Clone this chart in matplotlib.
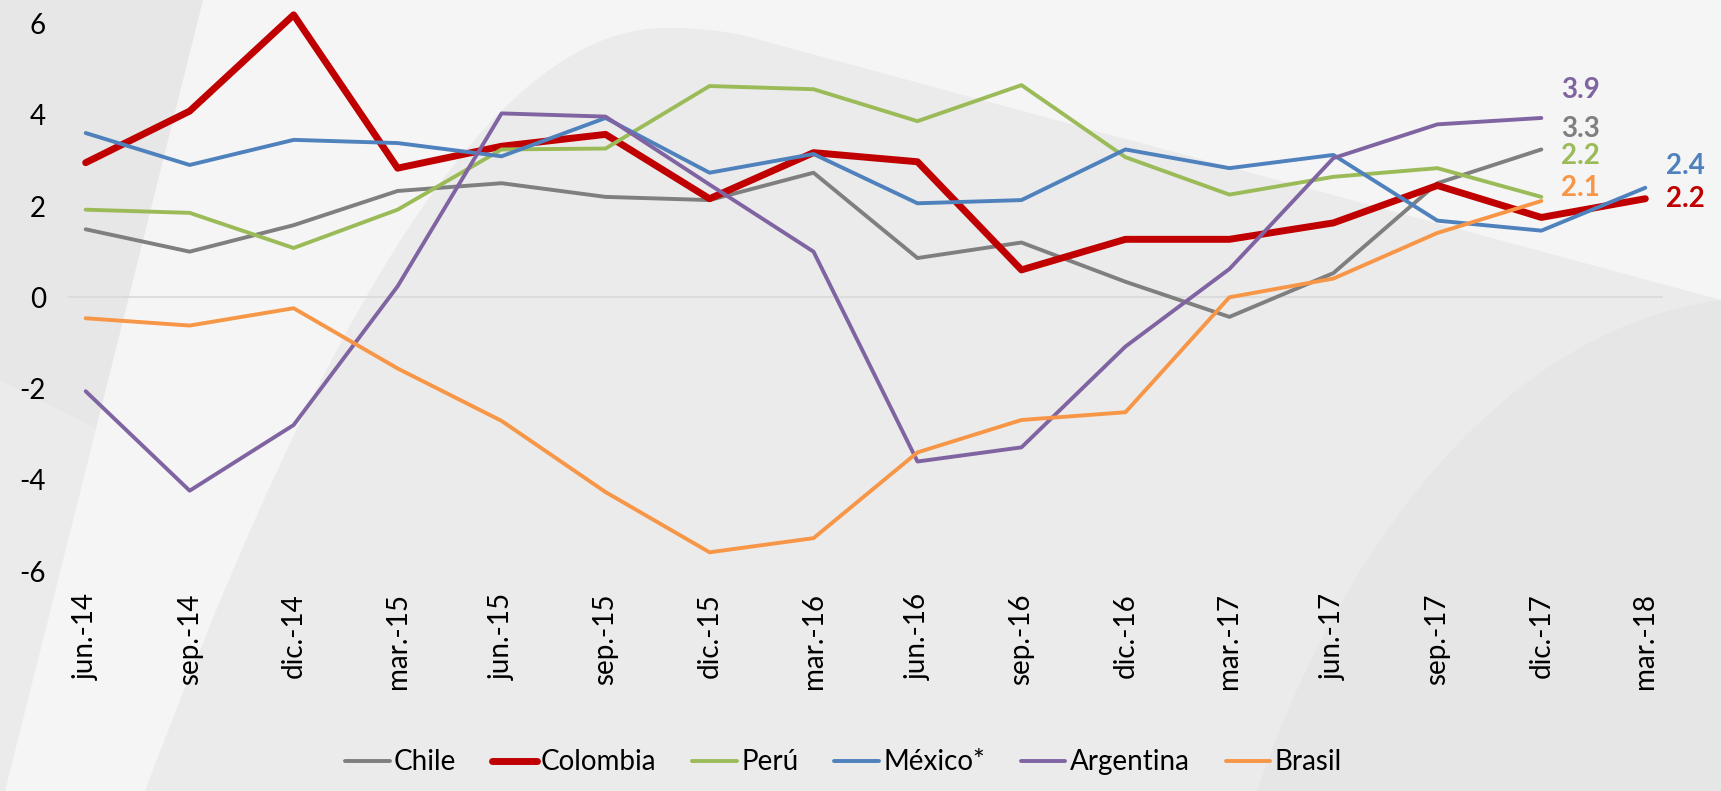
import matplotlib
matplotlib.use("Agg")
import matplotlib.pyplot as plt
from matplotlib.path import Path
from matplotlib.patches import PathPatch, Polygon

plt.rcParams['font.family'] = ['Lato', 'DejaVu Sans']

# Data
fechas = ['jun.-14', 'sep.-14', 'dic.-14', 'mar.-15', 'jun.-15', 'sep.-15', 'dic.-15', 'mar.-16',
          'jun.-16', 'sep.-16', 'dic.-16', 'mar.-17', 'jun.-17', 'sep.-17', 'dic.-17', 'mar.-18']
chile = [1.49, 1.0, 1.58, 2.33, 2.5, 2.2, 2.13, 2.73, 0.86, 1.2, 0.34, -0.43, 0.53, 2.5, 3.24]
colombia = [2.95, 4.08, 6.19, 2.83, 3.31, 3.57, 2.16, 3.17, 2.97, 0.6, 1.27, 1.27, 1.63, 2.45, 1.75, 2.16]
peru = [1.92, 1.85, 1.08, 1.92, 3.24, 3.26, 4.63, 4.56, 3.86, 4.65, 3.07, 2.25, 2.64, 2.83, 2.2]
mexico = [3.6, 2.9, 3.45, 3.38, 3.09, 3.93, 2.73, 3.14, 2.06, 2.13, 3.24, 2.83, 3.12, 1.68, 1.46, 2.4]
argentina = [-2.06, -4.24, -2.8, 0.24, 4.03, 3.96, 2.47, 1.0, -3.6, -3.29, -1.08, 0.62, 3.05, 3.79, 3.93]
brasil = [-0.46, -0.62, -0.24, -1.56, -2.71, -4.27, -5.59, -5.28, -3.4, -2.69, -2.52, 0.0, 0.41, 1.41, 2.11]

nombres = ['Chile', 'Colombia', 'Perú', 'México*', 'Argentina', 'Brasil']
colores = ['#7f7f7f', '#c00000', '#9bbb59', '#4f81bd', '#8064a2', '#f79646']
ultimos = ['3.3', '2.2', '2.2', '2.4', '3.9', '2.1']

fig = plt.figure(figsize=(17.21, 7.91), dpi=100)
fig.patch.set_facecolor('#f5f5f5')

# decorative background, in figure pixel coordinates
bg = fig.add_axes([0, 0, 1, 1], zorder=-1)
bg.set_xlim(0, 1721)
bg.set_ylim(791, 0)
bg.axis('off')
bg.add_patch(Polygon([(0, 0), (203, 0), (96, 429), (0, 381)], closed=True, fc='#e7e7e7', ec='none'))
bg.add_patch(Polygon([(0, 381), (96, 429), (5, 791), (0, 791)], closed=True, fc='#ebebeb', ec='none'))
verts = [(145, 791), (300, 380), (470, 35), (660, 28), (700, 27), (740, 33), (760, 40),
         (1721, 300), (1721, 791), (145, 791)]
codes = [Path.MOVETO, Path.CURVE4, Path.CURVE4, Path.CURVE4, Path.CURVE4, Path.CURVE4, Path.CURVE4,
         Path.LINETO, Path.LINETO, Path.CLOSEPOLY]
bg.add_patch(PathPatch(Path(verts, codes), fc='#ebebeb', ec='none'))
verts2 = [(1257, 791), (1340, 550), (1500, 330), (1721, 300), (1721, 791), (1257, 791)]
codes2 = [Path.MOVETO, Path.CURVE4, Path.CURVE4, Path.CURVE4, Path.LINETO, Path.CLOSEPOLY]
bg.add_patch(PathPatch(Path(verts2, codes2), fc='#e6e6e6', ec='none'))

ax = fig.add_axes([68 / 1721, (791 - 571) / 791, (1663 - 68) / 1721, 568 / 791])
ax.patch.set_alpha(0)

series = [chile, colombia, peru, mexico, argentina, brasil]
for nombre, vals, col in zip(nombres, series, colores):
    lw = 5 if nombre == 'Colombia' else 2.8
    ax.plot(range(len(vals)), vals, color=col, lw=lw, label=nombre,
            solid_joinstyle='round', solid_capstyle='round')

ax.axhline(0, color='#d9d9d9', lw=1.2, zorder=0)

# end labels
pos = {'Argentina': (14.19, 4.55), 'Chile': (14.19, 3.68), 'Perú': (14.19, 3.09),
       'Brasil': (14.19, 2.39), 'México*': (15.2, 2.87), 'Colombia': (15.2, 2.15)}
for nombre, txt, col in zip(nombres, ultimos, colores):
    x, y = pos[nombre]
    ax.text(x, y, txt, color=col, fontsize=20, fontweight='bold', ha='left', va='center', clip_on=False)

ax.set_xlim(-0.17, 15.17)
ax.set_ylim(-6, 6.45)
ax.set_xticks(range(len(fechas)))
ax.set_xticklabels(fechas, rotation=90, fontsize=20)
ax.set_yticks([-6, -4, -2, 0, 2, 4, 6])
ax.set_yticklabels(['-6', '-4', '-2', '0', '2', '4', '6'], fontsize=20)
ax.tick_params(axis='both', length=0)
ax.tick_params(axis='x', pad=16)
ax.tick_params(axis='y', pad=16)
for s in ax.spines.values():
    s.set_visible(False)

fig.legend(loc='lower center', bbox_to_anchor=(0.49, -0.012), ncol=6, frameon=False, fontsize=20,
           handlelength=1.6, handletextpad=0.15, columnspacing=1.3)

fig.savefig('out.png', dpi=100, facecolor=fig.get_facecolor())
